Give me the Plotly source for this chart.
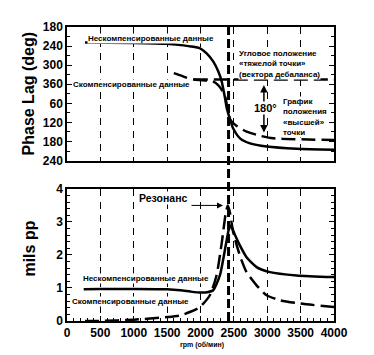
import plotly.graph_objects as go

# ---- data ----
phase_uncomp_rpm = [270, 1000, 1500, 1700, 1850, 1993, 2092, 2192, 2267, 2317, 2367, 2392, 2442, 2492, 2592, 2742, 2992, 3441, 4000]
phase_uncomp_deg = [229, 230, 233, 237, 241, 247, 263, 289, 320, 351, 403, 434, 470, 500, 530, 546, 556, 563, 566]

phase_comp_rpm = [1600, 1700, 1800, 1900, 2000, 2100, 2190, 2260, 2320, 2370, 2400, 2442, 2542, 2692, 2892, 3092, 4000]
phase_comp_deg = [325, 332, 340, 345, 347, 349, 352, 362, 378, 400, 430, 470, 491, 509, 522, 530, 535]

heavy_spot_rpm = [1900, 4000]
heavy_spot_deg = [345, 345]

amp_uncomp_rpm = [250, 500, 1000, 1500, 1700, 1850, 2000, 2100, 2190, 2290, 2370, 2420, 2450, 2520, 2590, 2690, 2840, 3040, 3440, 4000]
amp_uncomp_mils = [0.96, 0.97, 0.97, 0.96, 0.93, 0.89, 0.86, 0.87, 0.93, 1.38, 2.2, 2.74, 2.89, 2.59, 2.29, 1.93, 1.63, 1.48, 1.38, 1.33]

amp_comp_rpm = [270, 500, 1000, 1500, 1700, 1850, 1990, 2140, 2240, 2320, 2380, 2410, 2440, 2490, 2590, 2690, 2840, 2990, 3190, 3490, 4000]
amp_comp_mils = [0.0, 0.0, 0.04, 0.12, 0.17, 0.28, 0.42, 0.78, 1.38, 2.39, 3.29, 3.5, 3.29, 2.69, 1.98, 1.48, 1.08, 0.78, 0.63, 0.53, 0.42]

resonance_rpm = 2420

x_ticks = [0, 500, 1000, 1500, 2000, 2500, 3000, 3500, 4000]
phase_tickvals = [180, 240, 300, 360, 420, 480, 540, 600]
phase_ticktext = ["180", "240", "300", "360", "60", "120", "180", "240"]
amp_tickvals = [0, 1, 2, 3, 4]

FONT = "Liberation Sans"
DASH = "14px,6px"

fig = go.Figure()

# top: phase
fig.add_trace(go.Scatter(x=phase_uncomp_rpm, y=phase_uncomp_deg, mode="lines",
                         line=dict(color="black", width=2.5, shape="spline", smoothing=0.6),
                         xaxis="x", yaxis="y", showlegend=False))
fig.add_trace(go.Scatter(x=phase_comp_rpm, y=phase_comp_deg, mode="lines",
                         line=dict(color="black", width=2.5, dash=DASH, shape="spline", smoothing=0.6),
                         xaxis="x", yaxis="y", showlegend=False))
fig.add_trace(go.Scatter(x=heavy_spot_rpm, y=heavy_spot_deg, mode="lines",
                         line=dict(color="black", width=2.5, dash=DASH),
                         xaxis="x", yaxis="y", showlegend=False))

# bottom: amplitude
fig.add_trace(go.Scatter(x=amp_uncomp_rpm, y=amp_uncomp_mils, mode="lines",
                         line=dict(color="black", width=2.5, shape="spline", smoothing=0.6),
                         xaxis="x2", yaxis="y2", showlegend=False))
fig.add_trace(go.Scatter(x=amp_comp_rpm, y=amp_comp_mils, mode="lines",
                         line=dict(color="black", width=2.5, dash=DASH, shape="spline", smoothing=0.6),
                         xaxis="x2", yaxis="y2", showlegend=False))

axis_common = dict(showline=True, linecolor="black", linewidth=1.5, mirror="allticks",
                   ticks="inside", tickcolor="black", ticklen=5, tickwidth=1,
                   zeroline=False,
                   tickfont=dict(family=FONT, size=12, color="black", weight="bold"))

xgrid = dict(showgrid=True, gridcolor="black", gridwidth=1, griddash="7px,6px")

# page body has an 8px default margin, so the figure is sized/margined to compensate
fig.update_layout(
    width=366, height=347,
    margin=dict(l=59, r=40, t=17, b=34),
    paper_bgcolor="white", plot_bgcolor="white",
    xaxis=dict(domain=[0, 1], range=[0, 4000], anchor="y", tickvals=x_ticks,
               showticklabels=False, showline=True, linecolor="black", linewidth=1.5,
               mirror=True, ticks="", zeroline=False, **xgrid),
    yaxis=dict(domain=[0.5456, 1], range=[600, 180], anchor="x",
               tickvals=phase_tickvals, ticktext=phase_ticktext, showgrid=False,
               minor=dict(dtick=30, tick0=180, ticks="inside", ticklen=3, tickcolor="black"),
               **axis_common),
    xaxis2=dict(domain=[0, 1], range=[0, 4000], anchor="y2", tickvals=x_ticks,
                minor=dict(dtick=100, ticks="inside", ticklen=3, tickcolor="black"),
                showline=True, linecolor="black", linewidth=1.5, mirror=True,
                ticks="inside", tickcolor="black", ticklen=5, zeroline=False,
                tickfont=dict(family=FONT, size=12, color="black", weight="bold"),
                **xgrid),
    yaxis2=dict(domain=[0, 0.4493], range=[0, 4], anchor="x2",
                tickvals=amp_tickvals, showgrid=False,
                minor=dict(dtick=0.2, ticks="inside", ticklen=3, tickcolor="black"),
                **axis_common),
)

# resonance line across both plots
fig.add_shape(type="line", xref="x", yref="paper", x0=resonance_rpm, x1=resonance_rpm,
              y0=0, y1=1.01, line=dict(color="black", width=3, dash="9px,4px"), layer="above")

def txt(text, x, y, xref, yref, size=8, xanchor="center", align="center", bg="white"):
    fig.add_annotation(text=text, x=x, y=y, xref=xref, yref=yref, showarrow=False,
                       font=dict(family=FONT, size=size, color="black", weight="bold"),
                       xanchor=xanchor, yanchor="middle", align=align, bgcolor=bg, borderpad=0)

# top annotations
txt("Нескомпенсированные данные", 1258, 216, "x", "y")
txt("Скомпенсированные данные", 959, 360, "x", "y")
txt("Угловое положение<br>«тяжелой точки»<br>(вектора дебаланса)", 2562, 295, "x", "y",
    xanchor="left", align="left")
txt("График<br>положения<br>«высшей»<br>точки", 3221, 463, "x", "y", xanchor="left", align="left")

fig.add_annotation(x=2950, y=512, ax=2950, ay=358, xref="x", yref="y", axref="x", ayref="y",
                   text="", showarrow=True, arrowhead=2, startarrowhead=2, arrowside="end+start",
                   arrowwidth=1.5, arrowsize=1, arrowcolor="black")
txt("180°", 2981, 434, "x", "y", size=11)

# bottom annotations
txt("Резонанс", 1438, 3.72, "x2", "y2", size=10.5)
fig.add_annotation(x=2337, y=3.5, ax=1843, ay=3.5, xref="x2", yref="y2", axref="x2", ayref="y2",
                   text="", showarrow=True, arrowhead=2, arrowwidth=1, arrowsize=1.2, arrowcolor="black")
txt("Нескомпенсированные данные", 1183, 1.29, "x2", "y2")
txt("Скомпенсированные данные", 951, 0.595, "x2", "y2")

# axis titles
title_font = dict(family=FONT, size=16, color="black", weight="bold")
fig.add_annotation(text="Phase Lag (deg)", x=-0.146, y=0.774, xref="paper", yref="paper",
                   showarrow=False, textangle=-90, xanchor="center", yanchor="middle",
                   font=title_font)
fig.add_annotation(text="mils pp", x=-0.142, y=0.2466, xref="paper", yref="paper",
                   showarrow=False, textangle=-90, xanchor="center", yanchor="middle",
                   font=title_font)
fig.add_annotation(text="rpm (об/мин)", x=0.506, y=-0.081, xref="paper", yref="paper",
                   showarrow=False, xanchor="center", yanchor="middle",
                   font=dict(family=FONT, size=7, color="black", weight="bold"))

fig.write_html("out.html")
